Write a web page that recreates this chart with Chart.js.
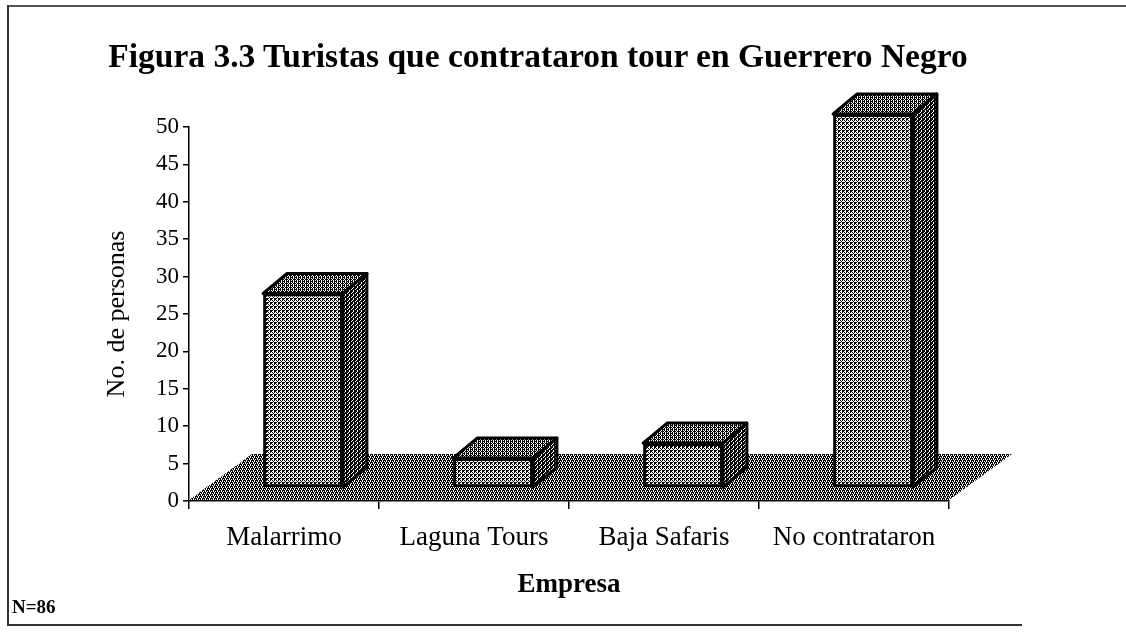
<!DOCTYPE html>
<html>
<head>
<meta charset="utf-8">
<script src="https://cdn.jsdelivr.net/npm/chart.js@4"></script>
<style>
  html, body { margin: 0; padding: 0; background: #fff; }
  #wrap { position: relative; width: 1126px; height: 635px; overflow: hidden; }
  .ln { position: absolute; background: #333; }
  #title { position: absolute; left: 0; width: 1076px; top: 37px; text-align: center;
           font: bold 33.5px "Liberation Serif", serif; color: #000; white-space: nowrap; }
  #note { position: absolute; left: 12px; top: 596px; font: bold 19px "Liberation Serif", serif; color: #000; }
  canvas { position: absolute; left: 0; top: 0; }
</style>
</head>
<body>
<div id="wrap">
  <div class="ln" style="left:7px;top:5px;width:1119px;height:2px;background:#555"></div>
  <div class="ln" style="left:7px;top:5px;width:2px;height:621px"></div>
  <div class="ln" style="left:7px;top:624px;width:1015px;height:2px"></div>
  <canvas id="chart" width="1126" height="635"></canvas>
  <div id="title">Figura 3.3 Turistas que contrataron tour en Guerrero Negro</div>
  <div id="note">N=86</div>
</div>
<script>
const categories = ['Malarrimo', 'Laguna Tours', 'Baja Safaris', 'No contrataron'];
const personas = [26, 4, 6, 50];
const yTicks = [0, 5, 10, 15, 20, 25, 30, 35, 40, 45, 50];

// 3D look: bar shift into the floor, bar depth, floor depth
const SHIFT_X = 19, SHIFT_Y = -13;
const DEPTH_X = 24, DEPTH_Y = -20;
const FLOOR_X = 63, FLOOR_Y = -46;

function makePattern(rows){
  const c = document.createElement('canvas');
  c.width = rows[0].length; c.height = rows.length;
  const g = c.getContext('2d');
  g.fillStyle = '#fff'; g.fillRect(0, 0, c.width, c.height);
  g.fillStyle = '#000';
  rows.forEach((row, y) => [...row].forEach((ch, x) => { if (ch === '#') g.fillRect(x, y, 1, 1); }));
  return g.createPattern(c, 'repeat');
}

const frontPat = makePattern(['#..#', '.#.#', '..#.', '##.#']);
const topPat   = makePattern(['#.##', '.#.#', '##.#', '.#.#']);
const sidePat  = makePattern(['##.#', '#.##', '.###', '##.#']);
const floorPat = makePattern(['##.#', '.#.#', '#.##', '#.#.']);

function poly(ctx, pts, fill, stroke, lw){
  ctx.beginPath();
  ctx.moveTo(pts[0][0], pts[0][1]);
  pts.slice(1).forEach(p => ctx.lineTo(p[0], p[1]));
  ctx.closePath();
  ctx.fillStyle = fill; ctx.fill();
  if (stroke){ ctx.lineWidth = lw; ctx.strokeStyle = stroke; ctx.lineJoin = 'round'; ctx.stroke(); }
}

const threeD = {
  id: 'threeD',
  beforeDatasetsDraw(chart){
    const {ctx, chartArea: a} = chart;
    ctx.save();
    poly(ctx, [[a.left, a.bottom - 1], [a.right, a.bottom - 1],
               [a.right + FLOOR_X, a.bottom - 1 + FLOOR_Y], [a.left + FLOOR_X, a.bottom - 1 + FLOOR_Y]], floorPat);
    ctx.restore();
  },
  beforeDatasetDraw(chart){
    chart.ctx.save();
    chart.ctx.translate(SHIFT_X, SHIFT_Y);
  },
  afterDatasetDraw(chart, args){
    const ctx = chart.ctx;
    args.meta.data.forEach(el => {
      const l = el.x - el.width / 2, r = el.x + el.width / 2, t = el.y, b = el.base;
      poly(ctx, [[l, t], [r, t], [r + DEPTH_X, t + DEPTH_Y], [l + DEPTH_X, t + DEPTH_Y]], topPat, '#000', 3);
      poly(ctx, [[r, t], [r + DEPTH_X, t + DEPTH_Y], [r + DEPTH_X, b + DEPTH_Y], [r, b]], sidePat, '#000', 3);
    });
    ctx.restore();
  }
};

const serif = '"Liberation Serif", "Times New Roman", serif';

new Chart(document.getElementById('chart'), {
  type: 'bar',
  data: {
    labels: categories,
    datasets: [{
      data: personas,
      backgroundColor: frontPat,
      borderColor: '#000',
      borderWidth: 3,
      borderSkipped: false,
      barPercentage: 0.42,
      categoryPercentage: 1,
      clip: false
    }]
  },
  options: {
    responsive: false,
    animation: false,
    layout: { padding: { left: 0, right: 177, top: 127, bottom: 0 } },
    plugins: { legend: { display: false }, tooltip: { enabled: false }, title: { display: false } },
    scales: {
      x: {
        offset: true,
        grid: { offset: true, drawOnChartArea: false, drawTicks: true, tickLength: 8, color: '#000', lineWidth: 1.5 },
        border: { display: true, color: '#000', width: 1.5 },
        ticks: { color: '#000', font: { family: serif, size: 27 }, padding: 13, maxRotation: 0 },
        title: { display: true, text: 'Empresa', color: '#000', font: { family: serif, size: 27, weight: 'bold' }, padding: { bottom: 34 } },
        afterFit(s){ s.height = 134; }
      },
      y: {
        min: 0, max: 50,
        afterBuildTicks(s){ s.ticks = yTicks.map(v => ({ value: v })); },
        grid: { drawOnChartArea: false, drawTicks: true, tickLength: 6, color: '#000', lineWidth: 1.5 },
        border: { display: true, color: '#000', width: 1.5 },
        ticks: { color: '#000', font: { family: serif, size: 23 }, padding: 4 },
        title: { display: true, text: 'No. de personas', color: '#000', font: { family: serif, size: 26 }, padding: { top: 102 } },
        afterFit(s){ s.width = 189; }
      }
    }
  },
  plugins: [threeD]
});
</script>
</body>
</html>
